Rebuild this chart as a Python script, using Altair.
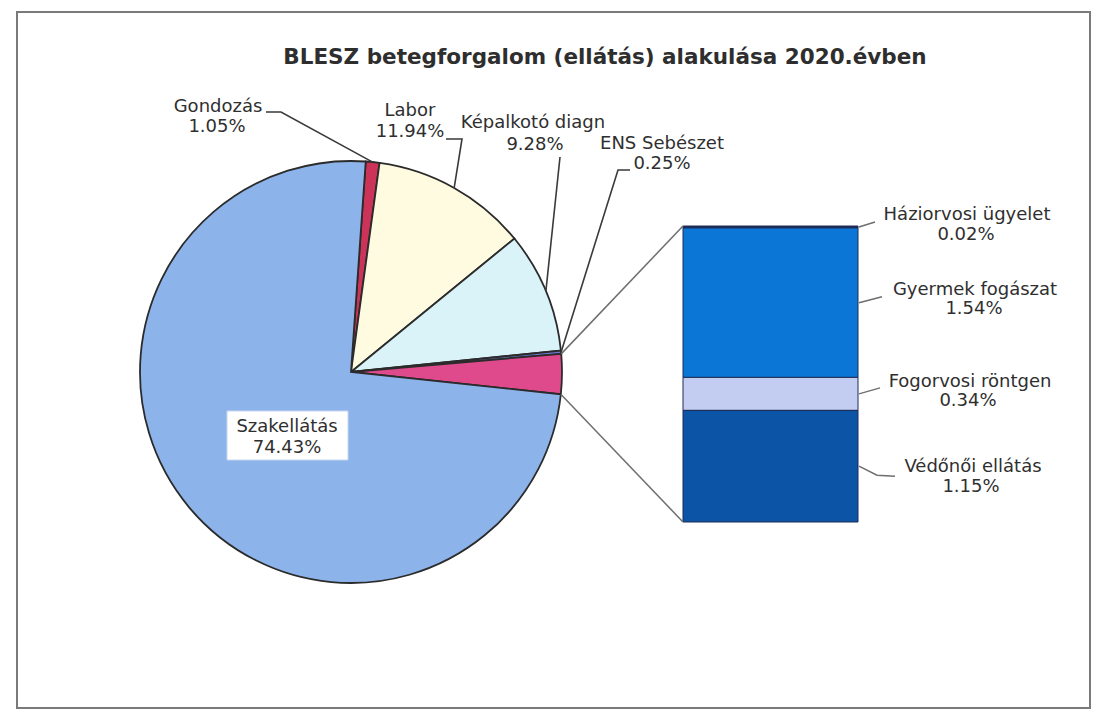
import math
import altair as alt
import pandas as pd

# ---------------- data ----------------
title_text = "BLESZ betegforgalom  (ellátás) alakulása  2020.évben"

pie_cats = ["Gondozás", "Labor", "Képalkotó diagn", "ENS Sebészet", "Szakellátás"]
pie_vals = [1.05, 11.94, 9.28, 0.25, 74.43]

bar_cats = ["Háziorvosi ügyelet", "Gyermek fogászat", "Fogorvosi röntgen", "Védőnői ellátás"]
bar_vals = [0.02, 1.54, 0.34, 1.15]

other_name = "Egyéb"

# ---------------- layout / style ----------------
M = 8
W, H = 1083, 701
CX, CY, R = 351, 372, 211          # pie centre / radius (page px)
START_DEG = 4.0                     # first slice starts just right of 12 o'clock
BX0, BX1, BTOP, BBOT = 683, 858, 226, 522

pie_colors = {
    "Gondozás": "#cc3358",
    "Labor": "#fffbe0",
    "Képalkotó diagn": "#daf3f8",
    "ENS Sebészet": "#6c74c8",
    other_name: "#df4a8c",
    "Szakellátás": "#8db4ea",
}
bar_colors = {
    "Háziorvosi ügyelet": "#1c2d5c",
    "Gyermek fogászat": "#0b76d6",
    "Fogorvosi röntgen": "#c3cdf2",
    "Védőnői ellátás": "#0c54a6",
}
TXT = "#2f2f2f"
FONT = "DejaVu Sans"

def P(x, y):
    return x - M, y - M

# ---------------- pie table ----------------
other_val = round(sum(bar_vals), 2)
cats = pie_cats[:4] + [other_name] + pie_cats[4:]
vals = pie_vals[:4] + [other_val] + pie_vals[4:]
total = sum(vals)
pie_df = pd.DataFrame({"cat": cats, "value": vals, "idx": list(range(len(cats)))})

# slice angles (degrees, clockwise from north) derived from the data
ang = {}
cum = 0.0
for c, v in zip(cats, vals):
    a0 = START_DEG + 360 * cum / total
    cum += v
    a1 = START_DEG + 360 * cum / total
    ang[c] = (a0, a1, (a0 + a1) / 2)

def edge(deg):
    t = math.radians(deg)
    return CX + R * math.sin(t), CY - R * math.cos(t)

# ---------------- bar table ----------------
bar_order = {c: i for i, c in enumerate(reversed(bar_cats))}  # bottom first
bar_df = pd.DataFrame({"cat": bar_cats, "value": bar_vals,
                       "bidx": [bar_order[c] for c in bar_cats]})
bar_total = sum(bar_vals)

def bar_y(v):
    return BBOT - (BBOT - BTOP) * v / bar_total

bar_mid = {}
cumb = 0.0
for c in reversed(bar_cats):
    v = bar_vals[bar_cats.index(c)]
    bar_mid[c] = bar_y(cumb + v / 2)
    cumb += v

# ---------------- lines ----------------
segs = {
    "Gondozás": [(266, 112), (281, 112), edge(ang["Gondozás"][2])],
    "Labor": [(446, 139), (462, 139), edge(ang["Labor"][2])],
    "Képalkotó diagn": [(560, 157), edge(ang["Képalkotó diagn"][2])],
    "ENS Sebészet": [(630, 170), (618, 170), edge(ang["ENS Sebészet"][2])],
}
conn = {
    "c_top": [edge(ang[other_name][0]), (BX0, bar_y(bar_total))],
    "c_bot": [edge(ang[other_name][1]), (BX0, bar_y(0))],
}
bl = {}
hm = bar_mid["Háziorvosi ügyelet"]
bl["Háziorvosi ügyelet"] = [(BX1 + 1, hm), (BX1 + 17, hm - 5)]
gm = bar_mid["Gyermek fogászat"]
bl["Gyermek fogászat"] = [(BX1 + 1, gm), (BX1 + 24, gm - 6)]
rm = bar_mid["Fogorvosi röntgen"]
bl["Fogorvosi röntgen"] = [(BX1 + 1, rm), (BX1 + 22, rm - 6)]
vm = bar_mid["Védőnői ellátás"]
bl["Védőnői ellátás"] = [(BX1 + 1, vm), (BX1 + 19, vm + 9), (BX1 + 37, vm + 10)]

def to_rows(d, group):
    rows = []
    for k, pts in d.items():
        for i, (x, y) in enumerate(pts):
            xx, yy = P(x, y)
            rows.append({"seg": k, "ord": i, "px": xx, "py": yy, "grp": group})
    return rows

lead_df = pd.DataFrame(to_rows(segs, "lead"))
conn_df = pd.DataFrame(to_rows(conn, "conn") + to_rows(bl, "bar"))

# ---------------- labels ----------------
label_pos = {  # name centre, pct centre (page px)
    "Gondozás": ((218, 107), (217, 127)),
    "Labor": ((410, 111), (410, 132)),
    "Képalkotó diagn": ((533, 123), (535, 145)),
    "ENS Sebészet": ((662, 144), (662, 164)),
    "Szakellátás": ((287, 427), (287, 448)),
    "Háziorvosi ügyelet": ((967, 215), (966, 235)),
    "Gyermek fogászat": ((975, 290), (974, 309)),
    "Fogorvosi röntgen": ((970, 382), (968, 401)),
    "Védőnői ellátás": ((973, 467), (971, 487)),
}
allv = dict(zip(pie_cats, pie_vals))
allv.update(dict(zip(bar_cats, bar_vals)))
lab_rows = []
for k, (p1, p2) in label_pos.items():
    x1, y1 = P(*p1)
    x2, y2 = P(*p2)
    lab_rows.append({"t": k, "px": x1, "py": y1})
    lab_rows.append({"t": f"{allv[k]:.2f}%", "px": x2, "py": y2})
lab_df = pd.DataFrame(lab_rows)

# ---------------- scales ----------------
sx = alt.Scale(domain=[0, W], range=[0, W], nice=False, zero=False)
sy = alt.Scale(domain=[0, H], range=[0, H], nice=False, zero=False)

frame = alt.Chart(pd.DataFrame({"a": [0]})).mark_rect(
    fill="white", fillOpacity=0, stroke="#7a7a7a", strokeWidth=2
).encode(
    x=alt.value(17 - M), x2=alt.value(1090 - M),
    y=alt.value(12 - M), y2=alt.value(708 - M),
)

pie = alt.Chart(pie_df).mark_arc(
    radius=R, stroke="#2b2b2b", strokeWidth=1.8
).encode(
    theta=alt.Theta("value:Q", stack=True,
                    scale=alt.Scale(domain=[0, total],
                                    range=[math.radians(START_DEG),
                                           math.radians(START_DEG) + 2 * math.pi])),
    order=alt.Order("idx:Q"),
    color=alt.Color("cat:N", scale=alt.Scale(domain=list(pie_colors.keys()),
                                             range=list(pie_colors.values())),
                    legend=None),
    x=alt.value(CX - M), y=alt.value(CY - M),
)

bar = alt.Chart(bar_df).transform_stack(
    stack="value", groupby=[], as_=["v0", "v1"],
    sort=[alt.SortField("bidx", order="ascending")],
).mark_rect(stroke="#1e2d55", strokeWidth=1).encode(
    x=alt.value(BX0 - M), x2=alt.value(BX1 - M),
    y=alt.Y("v0:Q",
            scale=alt.Scale(domain=[0, bar_total], range=[BBOT - M, BTOP - M],
                            nice=False, zero=False),
            axis=None),
    y2="v1:Q",
    color=alt.Color("cat:N", scale=alt.Scale(domain=list(bar_colors.keys()),
                                             range=list(bar_colors.values())),
                    legend=None),
)

leads = alt.Chart(lead_df).mark_line(color="#3a3a3a", strokeWidth=1.6).encode(
    x=alt.X("px:Q", scale=sx, axis=None),
    y=alt.Y("py:Q", scale=sy, axis=None),
    detail="seg:N", order="ord:Q",
)
conns = alt.Chart(conn_df).mark_line(color="#6e6e6e", strokeWidth=1.5).encode(
    x=alt.X("px:Q", scale=sx, axis=None),
    y=alt.Y("py:Q", scale=sy, axis=None),
    detail="seg:N", order="ord:Q",
)

box = alt.Chart(pd.DataFrame({"a": [0]})).mark_rect(
    fill="white", stroke="#c8d6ee", strokeWidth=1
).encode(
    x=alt.value(227 - M), x2=alt.value(348 - M),
    y=alt.value(411 - M), y2=alt.value(460 - M),
)

labels = alt.Chart(lab_df).mark_text(
    font=FONT, fontSize=18, color=TXT, align="center", baseline="middle"
).encode(
    x=alt.X("px:Q", scale=sx, axis=None),
    y=alt.Y("py:Q", scale=sy, axis=None),
    text="t:N",
)

title = alt.Chart(pd.DataFrame({"t": [title_text]})).mark_text(
    font=FONT, fontSize=21.5, fontWeight="bold", color="#2e2e2e",
    align="center", baseline="middle"
).encode(
    x=alt.value(605 - M), y=alt.value(58 - M), text="t:N",
)

chart = alt.layer(frame, pie, bar, conns, leads, box, labels, title).resolve_scale(
    x="independent", y="independent", color="independent"
).properties(
    width=W, height=H, padding=0, autosize=alt.AutoSizeParams(type="none")
).configure_view(stroke=None)

chart.save("out.html", embed_options={"renderer": "svg", "actions": False})
